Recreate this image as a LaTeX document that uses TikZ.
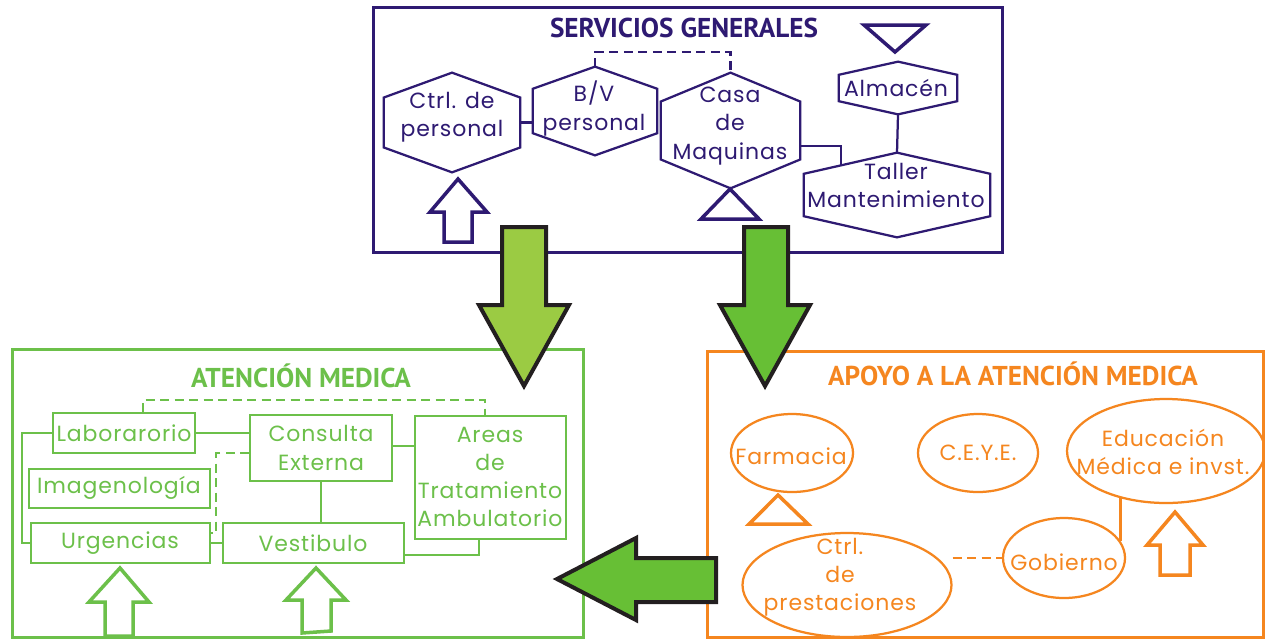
\documentclass[tikz,border=0pt]{standalone}
\usepackage{fontspec}
\setmainfont{Poppins}[LetterSpace=4]
\newfontfamily\headfont{PT Sans}
\usetikzlibrary{shapes.geometric,calc}

\definecolor{sgpurple}{HTML}{2E1A72}
\definecolor{amgreen}{HTML}{6CC04A}
\definecolor{apoyo}{HTML}{F5861F}
\definecolor{arrowlight}{HTML}{9BCB43}
\definecolor{arrowgreen}{HTML}{67BF35}
\definecolor{arrowedge}{HTML}{231F20}

\newdimen\px \px=0.2mm

\tikzset{
  boxtitle/.style={font=\headfont\bfseries\fontsize{15.5}{18}\selectfont, inner sep=0pt},
  bodytext/.style={font=\fontsize{12.5}{16}\selectfont, align=center, inner sep=0pt},
  hexnode/.style={inner sep=0pt},
  hextext/.style={bodytext, text=sgpurple},
  sgline/.style={draw=sgpurple, line width=0.45mm, line join=miter},
  amrect/.style={bodytext, draw=amgreen, text=amgreen, line width=0.4mm},
  amline/.style={draw=amgreen, line width=0.4mm},
  apoyoell/.style={ellipse, draw=apoyo, line width=0.45mm, inner sep=0pt},
  aptext/.style={bodytext, text=apoyo},
  apline/.style={draw=apoyo, line width=0.45mm},
  longdash/.style={dash pattern=on 1.8mm off 1.1mm},
  bigarrow/.style={draw=arrowedge, line width=0.8mm, line join=miter},
}

% hexagon round a (plain) node
\newcommand{\hexa}[1]{%
  \draw[sgline] ($(#1.north west)!.25!(#1.south west)$) -- (#1.north)
    -- ($(#1.north east)!.25!(#1.south east)$) -- ($(#1.north east)!.75!(#1.south east)$)
    -- (#1.south) -- ($(#1.north west)!.75!(#1.south west)$) -- cycle;}

\begin{document}
\begin{tikzpicture}[x=0.2mm, y=-0.2mm]
    \useasboundingbox[fill=white] (0,0) rectangle (1265,640);

    % Frames of the three areas
    \draw[draw=sgpurple, line width=0.6mm] (373,7) rectangle (1002,252);
    \draw[draw=amgreen, line width=0.6mm] (12,349) rectangle (583,637);
    \draw[draw=apoyo, line width=0.6mm] (707,351) rectangle (1263,637);

    % Titles
    \node[boxtitle, text=sgpurple] (sgtitle) at (684,28) {SERVICIOS GENERALES};
    \node[boxtitle, text=amgreen] (amtitle) at (301,376) {ATENCIÓN MEDICA};
    \node[boxtitle, text=apoyo] (aptitle) at (1013,374) {APOYO A LA ATENCIÓN MEDICA};

    % Servicios generales
    \node[hexnode, minimum width=136\px, minimum height=99\px] (ctrl) at (452,122.5) {};
    \node[hexnode, minimum width=124\px, minimum height=88\px] (bv) at (595,111) {};
    \node[hexnode, minimum width=139\px, minimum height=115\px] (casa) at (730.5,130.5) {};
    \node[hexnode, minimum width=118\px, minimum height=52\px] (almacen) at (898,88) {};
    \node[hexnode, minimum width=186\px, minimum height=84\px] (taller) at (897,195) {};
    \hexa{ctrl} \hexa{bv} \hexa{casa} \hexa{almacen} \hexa{taller}
    \node[hextext] (ctrltxt) at (452,117) {Ctrl. de\\personal};
    \node[hextext] (bvtxt) at (594,108.5) {B/V\\personal};
    \node[hextext] (casatxt) at (730,126) {Casa\\de\\Maquinas};
    \node[hextext] (almacentxt) at (896,88) {Almacén};
    \node[hextext] (tallertxt) at (896,185.5) {Taller\\Mantenimiento};

    \coordinate (sgdash) at (660,52);
    \coordinate (tmjoin) at (841,166);
    \draw[sgline] (ctrl.east) -- (ctrl.east -| bv.west);
    \draw[sgline, longdash] (bv.north) |- (sgdash) -| (casa.north);
    \draw[sgline] ([yshift=-15.5\px]casa.east) -| (tmjoin);
    \draw[sgline] (almacen.south) -- (taller.north);

    % Marks in servicios generales
    \draw[sgline, line width=0.7mm] (864,25) -- (926,25) -- (895,52) -- cycle;
    \draw[sgline, line width=0.7mm] (701,219) -- (759,219) -- (730,189) -- cycle;
    \draw[sgline, line width=0.7mm] (444,242) -- (444,212) -- (430,212) -- (458,179)
        -- (487,212) -- (472,212) -- (472,242) -- cycle;

    % Atencion medica
    \node[amrect, minimum width=142\px, minimum height=40\px] (lab) at (124,433) {Laborarorio};
    \node[amrect, minimum width=142\px, minimum height=66\px] (cons) at (321,448) {Consulta\\Externa};
    \node[amrect, minimum width=151\px, minimum height=123\px] (areas) at (490,477) {Areas\\de\\Tratamiento\\Ambulatorio};
    \node[amrect, minimum width=181\px, minimum height=39\px] (imag) at (119,488) {Imagenología};
    \node[amrect, minimum width=179\px, minimum height=40\px] (urg) at (120,543) {Urgencias};
    \node[amrect, minimum width=181\px, minimum height=40\px] (vest) at (313,543) {Vestibulo};

    \coordinate (amtop) at (300,400);
    \draw[amline, longdash] ([xshift=19\px]lab.north) |- (amtop) -| ([xshift=-5\px]areas.north);
    \draw[amline] (lab.east) -- (lab.east -| cons.west);
    \draw[amline] (lab.west) -- ++(-30,0) |- (urg.west);
    \draw[amline, longdash] ([yshift=-5\px]cons.west) -- ++(-33,0) |- ([yshift=10\px]urg.east);
    \draw[amline] (cons.south) -- (cons.south |- vest.north);
    \draw[amline] (urg.east) -- (vest.west);
    \draw[amline] ([yshift=2\px]cons.east) -- ([yshift=2\px]cons.east -| areas.west);
    \draw[amline] ([yshift=-12\px]vest.east) -| ([xshift=-11\px]areas.south);

    % Entrances of atencion medica
    \draw[amline, line width=0.7mm] (105,636) -- (105,602) -- (89,602) -- (120,568)
        -- (149,602) -- (133,602) -- (133,636) -- cycle;
    \draw[amline, line width=0.7mm] (302,633) -- (302,600) -- (286,600) -- (316,568)
        -- (346,600) -- (331,600) -- (331,631) -- cycle;

    % Apoyo a la atencion medica
    \node[apoyoell, minimum width=122\px, minimum height=78\px] (farm) at (792,453) {};
    \node[apoyoell, minimum width=120\px, minimum height=78\px] (ceye) at (978,453) {};
    \node[apoyoell, minimum width=198\px, minimum height=104\px] (edu) at (1166,451) {};
    \node[apoyoell, minimum width=209\px, minimum height=104\px] (prest) at (847,585) {};
    \node[apoyoell, minimum width=122\px, minimum height=80\px] (gob) at (1064,558) {};
    \node[aptext] (farmtxt) at (791,456) {Farmacia};
    \node[aptext] (ceyetxt) at (978,453) {C.E.Y.E.};
    \node[aptext] (edutxt) at (1163,452) {Educación\\Médica e invst.};
    \node[aptext] (presttxt) at (840,577) {Ctrl.\\de\\prestaciones};
    \node[aptext] (gobtxt) at (1064,562) {Gobierno};

    \draw[apline, longdash] (gob.west -| prest.east) -- (gob.west);
    \draw[apline] (gob.17) -- (gob.17 |- edu.224);

    % Marks in apoyo
    \draw[apline, line width=0.7mm] (749,524) -- (808,524) -- (778,495) -- cycle;
    \draw[apline, line width=0.7mm] (1160,575) -- (1160,545) -- (1147,545) -- (1175,512)
        -- (1203,545) -- (1190,545) -- (1190,575) -- cycle;

    % Big arrows between the areas
    \draw[bigarrow, fill=arrowlight] (502,227) -- (546,227) -- (546,305) -- (569,305)
        -- (524,386) -- (479,305) -- (502,305) -- cycle;
    \draw[bigarrow, fill=arrowgreen] (744,227) -- (788,227) -- (788,305) -- (810,305)
        -- (765,386) -- (720,305) -- (744,305) -- cycle;
    \draw[bigarrow, fill=arrowgreen] (716,558) -- (716,602) -- (636,602) -- (636,620)
        -- (557,579) -- (636,538) -- (636,558) -- cycle;

\end{tikzpicture}
\end{document}
